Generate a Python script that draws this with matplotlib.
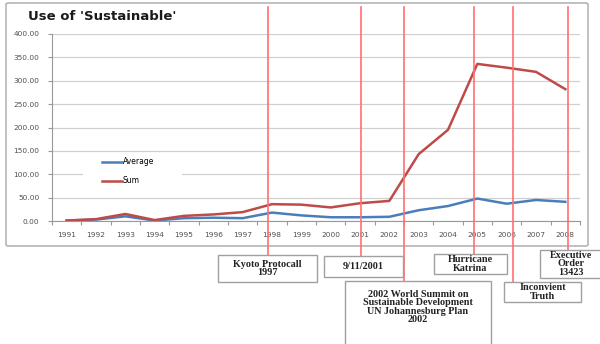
import matplotlib
matplotlib.use("Agg")
import matplotlib.pyplot as plt
from matplotlib.patches import Rectangle, FancyBboxPatch
from matplotlib.transforms import blended_transform_factory

years = [str(y) for y in range(1991, 2009)]
average = [1, 3, 10, 1, 6, 7, 6, 18, 12, 8, 8, 9, 23, 32, 48, 37, 45, 41]
total = [1, 4, 15, 2, 11, 14, 19, 36, 35, 29, 38, 43, 143, 195, 336, 328, 319, 282]
y_ticks = [0, 50, 100, 150, 200, 250, 300, 350, 400]

# events: label, position on the category axis, box (x0, y0, x1, y1) in pixels from top-left
events = [
    ("Kyoto Protocall\n1997", 6.86, (218, 255, 317, 282)),
    ("9/11/2001", 10.03, (324, 256, 403, 277)),
    ("2002 World Summit on\nSustainable Development\nUN Johannesburg Plan\n2002", 11.5, (345, 281, 491, 350)),
    ("Hurricane\nKatrina", 13.9, (434, 254, 507, 274)),
    ("Inconvient\nTruth", 15.2, (504, 282, 581, 302)),
    ("Executive\nOrder\n13423", 17.1, (540, 250, 602, 278)),
]

W, H = 600, 344
fig = plt.figure(figsize=(W / 100, H / 100), dpi=100)

def fx(px):
    return px / W

def fy(py):
    return 1 - py / H

# chart frame
fig.patches.append(FancyBboxPatch((fx(6), fy(246)), fx(588) - fx(6), fy(3) - fy(246),
                                  boxstyle="round,pad=0,rounding_size=0.004",
                                  transform=fig.transFigure, facecolor="white",
                                  edgecolor="#a6a6a6", linewidth=1.0, zorder=-5))

ax = fig.add_axes([fx(52), fy(221), fx(580) - fx(52), fy(34) - fy(221)])
ax.set_zorder(1)
ax.patch.set_alpha(0)
x = list(range(len(years)))
ax.plot(x, average, color="#4a7ebb", lw=1.8, label="Average", zorder=3)
ax.plot(x, total, color="#be4b48", lw=1.8, label="Sum", zorder=3)

ax.set_xlim(-0.5, len(years) - 0.5)
ax.set_ylim(0, 400)
ax.set_yticks(y_ticks)
ax.set_yticklabels([f"{v:.2f}" for v in y_ticks], fontsize=5.3, color="#505050")
ax.yaxis.grid(True, color="#d0d0d0", lw=0.9)
ax.set_axisbelow(True)
ax.set_xticks([i - 0.5 for i in range(len(years) + 1)])
ax.set_xticklabels([])
ax.set_xticks(x, minor=True)
ax.set_xticklabels(years, minor=True, fontsize=5.3, color="#505050")
ax.tick_params(axis="x", which="major", length=3, color="#999999", width=0.8)
ax.tick_params(axis="x", which="minor", length=0, pad=8)
ax.tick_params(axis="y", length=3, color="#999999", width=0.8, pad=6)
for side in ("top", "right"):
    ax.spines[side].set_visible(False)
for side in ("left", "bottom"):
    ax.spines[side].set_color("#999999")
    ax.spines[side].set_linewidth(0.8)

# white patch behind the legend breaks the gridline
ax.add_patch(Rectangle((0.059, 0.17), 0.187, 0.18, transform=ax.transAxes,
                       facecolor="white", edgecolor="none", zorder=1))
ax.legend(loc="center left", bbox_to_anchor=(0.095, 0.265), frameon=False,
          fontsize=5.5, handlelength=2.6, handletextpad=0.1, labelspacing=1.3,
          borderpad=0, borderaxespad=0)

fig.text(fx(28), fy(17), "Use of 'Sustainable'", fontsize=9.5, fontweight="bold",
         family="DejaVu Sans", color="#1a1a1a", va="center", ha="left")

# event markers running from the top of the chart down to their captions
trans = blended_transform_factory(ax.transData, fig.transFigure)
for label, pos, (x0, y0, x1, y1) in events:
    ax.add_line(plt.Line2D([pos, pos], [fy(7), fy(y0)], transform=trans,
                           color="#ff7070", lw=1.2, clip_on=False, zorder=4))
    fig.patches.append(Rectangle((fx(x0), fy(y1)), fx(x1) - fx(x0), fy(y0) - fy(y1),
                                 transform=fig.transFigure, facecolor="white",
                                 edgecolor="#a0a0a0", lw=1.0, zorder=5))
    ty = (y0 + y1) / 2 if label.count("\n") < 3 else y0 + 26
    fig.text(fx((x0 + x1) / 2), fy(ty), label, ha="center", va="center",
             fontsize=7.3, fontweight="bold", family="Liberation Serif",
             color="#222222", linespacing=0.95, zorder=6)

fig.savefig("out.png", dpi=100)
